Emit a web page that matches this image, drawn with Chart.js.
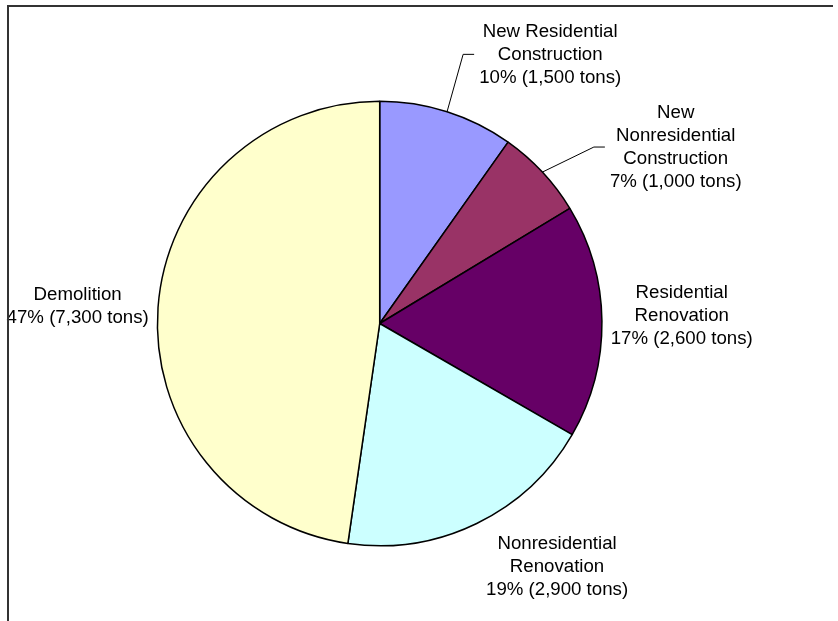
<!DOCTYPE html>
<html>
<head>
<meta charset="utf-8">
<script src="https://cdn.jsdelivr.net/npm/chart.js@4/dist/chart.umd.min.js"></script>
<style>
  html, body { margin: 0; padding: 0; background: #fff; }
  #grafico-box { width: 838px; height: 621px; }
</style>
</head>
<body>
<div id="grafico-box"><canvas id="grafico" width="838" height="621"></canvas></div>
<script>
// Dados do gráfico
const categorias = [
  ['New Residential', 'Construction'],
  ['New', 'Nonresidential', 'Construction'],
  ['Residential', 'Renovation'],
  ['Nonresidential', 'Renovation'],
  ['Demolition']
];
const toneladas = [1500, 1000, 2600, 2900, 7300];
const percentuais = [10, 7, 17, 19, 47];
const cores = ['#9999FF', '#993366', '#660066', '#CCFFFF', '#FFFFCC'];

// Posição do centro de cada rótulo, em raios a partir do centro da pizza
const posRotulos = [[0.767, -1.211], [1.332, -0.794], [1.359, -0.036], [0.798, 1.094], [-1.359, -0.076]];
const comLinha = [true, true, false, false, false];

const fonte = '18.67px "Liberation Sans", Arial, sans-serif';
const alturaLinha = 23;

const formatarTons = (v) => v.toLocaleString('en-US');

const rotulosPlugin = {
  id: 'rotulos',
  afterDatasetsDraw: (chart) => {
    const ctx = chart.ctx;
    const meta = chart.getDatasetMeta(0);
    ctx.save();
    ctx.font = fonte;
    ctx.fillStyle = '#000';
    ctx.textAlign = 'center';
    ctx.textBaseline = 'middle';

    meta.data.forEach((arco, i) => {
      const { x, y, startAngle, endAngle, outerRadius } = arco.getProps(['x', 'y', 'startAngle', 'endAngle', 'outerRadius'], true);
      const linhas = categorias[i].concat([`${percentuais[i]}% (${formatarTons(toneladas[i])} tons)`]);
      const cx = x + posRotulos[i][0] * outerRadius;
      const cy = y + posRotulos[i][1] * outerRadius;
      const topo = cy - (linhas.length - 1) * alturaLinha / 2;

      linhas.forEach((txt, j) => {
        ctx.fillText(txt, cx, topo + j * alturaLinha);
      });

      // Linha guia até a fatia
      if (comLinha[i]) {
        const largura = Math.max(...linhas.map((t) => ctx.measureText(t).width));
        const esquerda = cx - largura / 2;
        const meio = (startAngle + endAngle) / 2;
        ctx.beginPath();
        ctx.strokeStyle = '#000';
        ctx.lineWidth = 1;
        ctx.moveTo(x + Math.cos(meio) * outerRadius, y + Math.sin(meio) * outerRadius);
        ctx.lineTo(esquerda - 16, cy);
        ctx.lineTo(esquerda - 5, cy);
        ctx.stroke();
      }
    });
    ctx.restore();
  },
  afterDraw: (chart) => {
    // Moldura (só topo e lado esquerdo aparecem)
    const ctx = chart.ctx;
    ctx.save();
    ctx.strokeStyle = '#333';
    ctx.lineWidth = 2;
    ctx.beginPath();
    ctx.moveTo(8, 621);
    ctx.lineTo(8, 6);
    ctx.lineTo(833, 6);
    ctx.stroke();
    ctx.restore();
  }
};

const ctx = document.getElementById('grafico').getContext('2d');
const chart = new Chart(ctx, {
  type: 'pie',
  data: {
    labels: categorias.map((c) => c.join(' ')),
    datasets: [{
      data: toneladas,
      backgroundColor: cores,
      borderColor: '#000',
      borderWidth: 1.5
    }]
  },
  options: {
    responsive: false,
    animation: false,
    layout: { padding: { left: 100, right: 178.6, top: 100.5, bottom: 74.5 } },
    plugins: {
      legend: { display: false },
      tooltip: { enabled: false }
    }
  },
  plugins: [rotulosPlugin]
});
</script>
</body>
</html>
